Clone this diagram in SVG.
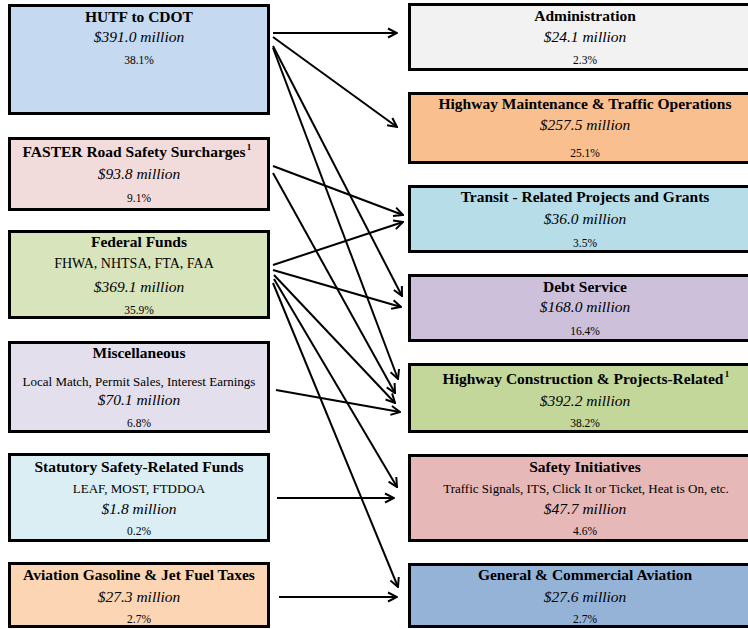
<svg xmlns="http://www.w3.org/2000/svg" width="748" height="629" viewBox="0 0 748 629">
<style>
.box{stroke:#000;stroke-width:3}
text{font-family:"Liberation Serif","Times New Roman",serif;fill:#000;text-anchor:middle}
.t{font-weight:bold;font-size:15.5px}
.a{font-style:italic;font-size:15.5px}
.p{font-size:11.5px}
.s{font-size:13px}
.sup{font-weight:bold;font-size:9px}
.c line{stroke:#000;stroke-width:2;marker-end:url(#ah)}
</style>
<defs>
<marker id="ah" viewBox="0 0 12 12" refX="11" refY="6" markerWidth="12" markerHeight="12" markerUnits="userSpaceOnUse" orient="auto">
<path d="M2,1.5 L11,6 L2,10.5" fill="none" stroke="#000" stroke-width="2"/>
</marker>
</defs>
<rect width="748" height="629" fill="#fff"/>

<g id="hutf">
<rect class="box" x="9.5" y="5.5" width="259" height="108" fill="#c5d9f1"/>
<text class="t" x="139" y="22">HUTF to CDOT</text>
<text class="a" x="139" y="42">$391.0 million</text>
<text class="p" x="139" y="64">38.1%</text>
</g>
<g id="faster">
<rect class="box" x="9.5" y="138.5" width="259" height="71" fill="#f2dcdb"/>
<text class="t" x="134" y="157">FASTER Road Safety Surcharges</text>
<text class="sup" x="249" y="150">1</text>
<text class="a" x="139" y="179">$93.8 million</text>
<text class="p" x="139" y="202">9.1%</text>
</g>
<g id="federal">
<rect class="box" x="9.5" y="231.5" width="259" height="86" fill="#d8e4bc"/>
<text class="t" x="139" y="247">Federal Funds</text>
<text class="s" x="134" y="268" style="font-size:14px">FHWA, NHTSA, FTA, FAA</text>
<text class="a" x="139" y="292">$369.1 million</text>
<text class="p" x="139" y="314">35.9%</text>
</g>
<g id="misc">
<rect class="box" x="9.5" y="342.5" width="259" height="89" fill="#e4dfec"/>
<text class="t" x="139" y="358">Miscellaneous</text>
<text class="s" x="139" y="386">Local Match, Permit Sales, Interest Earnings</text>
<text class="a" x="139" y="405">$70.1 million</text>
<text class="p" x="139" y="427">6.8%</text>
</g>
<g id="statutory">
<rect class="box" x="9.5" y="454.5" width="259" height="86" fill="#daeef3"/>
<text class="t" x="139" y="472">Statutory Safety-Related Funds</text>
<text class="s" x="139" y="493">LEAF, MOST, FTDDOA</text>
<text class="a" x="139" y="514">$1.8 million</text>
<text class="p" x="139" y="535">0.2%</text>
</g>
<g id="aviationtax">
<rect class="box" x="9.5" y="563.5" width="259" height="63" fill="#fcd5b4"/>
<text class="t" x="139" y="580">Aviation Gasoline &amp; Jet Fuel Taxes</text>
<text class="a" x="139" y="602">$27.3 million</text>
<text class="p" x="139" y="623">2.7%</text>
</g>

<g id="admin">
<rect class="box" x="409.5" y="4.5" width="360" height="65" fill="#f2f2f2"/>
<text class="t" x="585" y="21">Administration</text>
<text class="a" x="585" y="42">$24.1 million</text>
<text class="p" x="585" y="64">2.3%</text>
</g>
<g id="maintenance">
<rect class="box" x="409.5" y="93.5" width="360" height="69" fill="#fabf8f"/>
<text class="t" x="585" y="109">Highway Maintenance &amp; Traffic Operations</text>
<text class="a" x="585" y="130">$257.5 million</text>
<text class="p" x="585" y="157">25.1%</text>
</g>
<g id="transit">
<rect class="box" x="409.5" y="186.5" width="360" height="65" fill="#b7dde8"/>
<text class="t" x="585" y="202">Transit - Related Projects and Grants</text>
<text class="a" x="585" y="224">$36.0 million</text>
<text class="p" x="585" y="247">3.5%</text>
</g>
<g id="debt">
<rect class="box" x="409.5" y="275.5" width="360" height="65" fill="#ccc0da"/>
<text class="t" x="585" y="292">Debt Service</text>
<text class="a" x="585" y="312">$168.0 million</text>
<text class="p" x="585" y="335">16.4%</text>
</g>
<g id="construction">
<rect class="box" x="409.5" y="364.5" width="360" height="67" fill="#c4d79b"/>
<text class="t" x="583" y="384">Highway Construction &amp; Projects-Related</text>
<text class="sup" x="727" y="377">1</text>
<text class="a" x="585" y="406">$392.2 million</text>
<text class="p" x="585" y="427">38.2%</text>
</g>
<g id="safety">
<rect class="box" x="409.5" y="455.5" width="360" height="85" fill="#e6b8b7"/>
<text class="t" x="585" y="472">Safety Initiatives</text>
<text class="s" x="586" y="493">Traffic Signals, ITS, Click It or Ticket, Heat is On, etc.</text>
<text class="a" x="585" y="514">$47.7 million</text>
<text class="p" x="585" y="535">4.6%</text>
</g>
<g id="aviation">
<rect class="box" x="409.5" y="564.5" width="360" height="62" fill="#95b3d7"/>
<text class="t" x="585" y="580">General &amp; Commercial Aviation</text>
<text class="a" x="585" y="602">$27.6 million</text>
<text class="p" x="585" y="623">2.7%</text>
</g>

<g id="connectors" class="c">
<line x1="273" y1="33" x2="397" y2="33"/>
<line x1="273" y1="37" x2="397" y2="127"/>
<line x1="273" y1="46" x2="402" y2="296"/>
<line x1="273" y1="48" x2="398" y2="379"/>
<line x1="273" y1="166" x2="403" y2="215"/>
<line x1="273" y1="173" x2="395" y2="393"/>
<line x1="273" y1="265" x2="403" y2="222"/>
<line x1="273" y1="270" x2="401" y2="307"/>
<line x1="274" y1="275" x2="395" y2="403"/>
<line x1="274" y1="279" x2="397" y2="487"/>
<line x1="273" y1="283" x2="398" y2="587"/>
<line x1="276" y1="390" x2="400" y2="412"/>
<line x1="277" y1="498" x2="394" y2="498"/>
<line x1="279" y1="597" x2="397" y2="597"/>
</g>
</svg>
